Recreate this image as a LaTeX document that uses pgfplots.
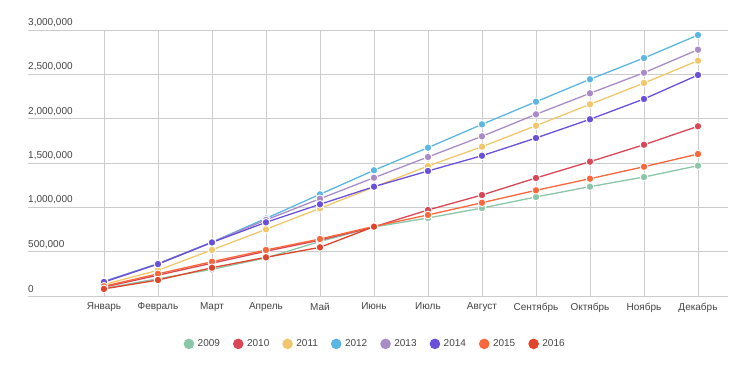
\documentclass[border=0pt]{standalone}
\usepackage{pgfplots}
\pgfplotsset{compat=1.18}
\usepackage{fontspec}
\setmainfont{Liberation Sans}
\definecolor{c2009}{HTML}{8CC6A8}
\definecolor{c2010}{HTML}{D94656}
\definecolor{c2011}{HTML}{F2C76B}
\definecolor{c2012}{HTML}{5CB6E3}
\definecolor{c2013}{HTML}{A98CC7}
\definecolor{c2014}{HTML}{6A4FDB}
\definecolor{c2015}{HTML}{F9673A}
\definecolor{c2016}{HTML}{E0442A}
\definecolor{gridc}{HTML}{CCCCCC}
\definecolor{txt}{HTML}{444444}
\pgfplotsset{
  ser/.style={color=#1, line width=1.3bp, mark=*, mark size=3.8bp,
    mark options={fill=#1, draw=white, line width=0.9bp, solid}},
}
\begin{document}
\begin{tikzpicture}
\useasboundingbox (0,0) rectangle (750bp,365bp);
\begin{axis}[
  at={(28bp,69bp)}, anchor=south west,
  scale only axis, width=700bp, height=266bp,
  xmin=-1.407, xmax=11.556, ymin=0, ymax=3000000,
  axis line style={draw=none},
  major tick length=0pt,
  xtick={0,...,11},
  xticklabels={Январь,Февраль,Март,Апрель,Май,Июнь,Июль,Август,Сентябрь,Октябрь,Ноябрь,Декабрь},
  ytick={0,500000,1000000,1500000,2000000,2500000,3000000},
  yticklabels={0,{500,000},{1,000,000},{1,500,000},{2,000,000},{2,500,000},{3,000,000}},
  xmajorgrids, ymajorgrids,
  grid style={gridc, line width=0.8bp},
  tick label style={font=\fontsize{10bp}{12bp}\selectfont, text=txt},
  yticklabel style={anchor=south west, inner sep=0pt, xshift=0bp, yshift=3bp},
  xticklabel style={anchor=north, inner sep=0pt, yshift=-6.5bp},
  scaled y ticks=false,
  clip=false,
  legend columns=8,
  legend style={draw=none, fill=none, at={(0.497,-0.18)}, anchor=center,
    font=\fontsize{10bp}{12bp}\selectfont, text=txt,
    /tikz/every even column/.append style={column sep=9.5bp},
    nodes={inner xsep=3.5bp}},
  legend image code/.code={\fill[#1, draw=none] (2bp,0bp) circle (5.3bp);},
]
\addplot[ser=c2009] coordinates {(0,85000)(1,195000)(2,300000)(3,430000)(4,615000)(5,778000)(6,880000)(7,992000)(8,1117000)(9,1233000)(10,1342000)(11,1470000)};
\addplot[ser=c2010] coordinates {(0,100000)(1,235000)(2,370000)(3,505000)(4,630000)(5,780000)(6,970000)(7,1139000)(8,1331000)(9,1515000)(10,1706000)(11,1914000)};
\addplot[ser=c2011] coordinates {(0,130000)(1,290000)(2,520000)(3,752000)(4,989000)(5,1228000)(6,1466000)(7,1684000)(8,1921000)(9,2162000)(10,2402000)(11,2654000)};
\addplot[ser=c2012] coordinates {(0,165000)(1,365000)(2,608000)(3,875000)(4,1147000)(5,1418000)(6,1673000)(7,1936000)(8,2191000)(9,2444000)(10,2684000)(11,2943000)};
\addplot[ser=c2013] coordinates {(0,160000)(1,362000)(2,606000)(3,858000)(4,1097000)(5,1334000)(6,1568000)(7,1801000)(8,2049000)(9,2286000)(10,2518000)(11,2778000)};
\addplot[ser=c2014] coordinates {(0,158000)(1,360000)(2,604000)(3,831000)(4,1034000)(5,1233000)(6,1410000)(7,1582000)(8,1782000)(9,1993000)(10,2222000)(11,2492000)};
\addplot[ser=c2015] coordinates {(0,110000)(1,250000)(2,387000)(3,519000)(4,643000)(5,785000)(6,914000)(7,1052000)(8,1192000)(9,1323000)(10,1458000)(11,1601000)};
\addplot[ser=c2016] coordinates {(0,80000)(1,180000)(2,319000)(3,436000)(4,549000)(5,782000)};
\legend{2009,2010,2011,2012,2013,2014,2015,2016}
\end{axis}
\end{tikzpicture}
\end{document}
